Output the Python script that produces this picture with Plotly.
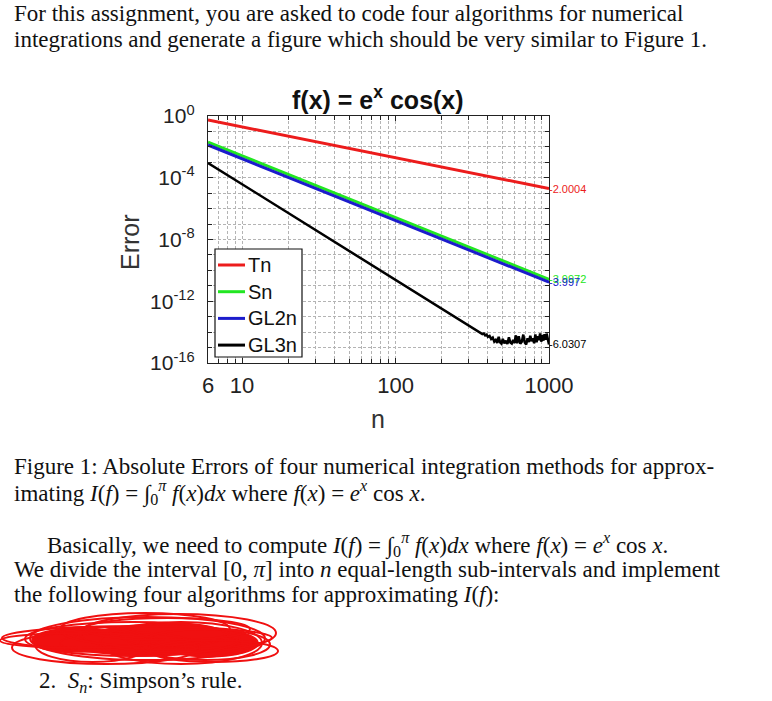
import math
import plotly.graph_objects as go

W, H = 772, 701

# ---- error data (absolute error vs number of sub-intervals n) ----
n_main = [6, 10, 20, 50, 100, 200, 500, 1000]
err_tn = [0.55, 0.199, 0.0497, 0.00795, 0.00199, 4.97e-4, 7.95e-5, 1.99e-5]
err_sn = [0.0202, 2.62e-3, 1.64e-4, 4.19e-6, 2.62e-7, 1.64e-8, 4.19e-10, 2.62e-11]
err_gl2n = [1.32e-2, 1.71e-3, 1.07e-4, 2.74e-6, 1.71e-7, 1.07e-8, 2.74e-10, 1.71e-11]

n_gl3n = [6, 10, 20, 50, 100, 200, 300, 350, 360, 368, 376, 384, 392, 400, 410,
          420, 430, 440, 450, 460, 470, 480, 490, 500, 512, 524, 536, 548, 560,
          572, 584, 596, 608, 620, 635, 650, 665, 680, 695, 710, 725, 740, 755,
          770, 785, 800, 815, 830, 845, 860, 875, 890, 905, 920, 935, 950, 965,
          980, 1000]
err_gl3n = [9.1e-4, 3.8e-5, 5.1e-7, 1.74e-9, 2.5e-11, 3.4e-13, 2.75e-14, 1.07e-14,
            9.0e-15, 7.5e-15, 8.2e-15, 6.1e-15, 6.8e-15, 4.9e-15, 5.6e-15,
            3.6e-15, 4.4e-15, 2.4e-15, 3.1e-15, 2.0e-15, 4.9e-15, 2.2e-15, 1.8e-15,
            3.6e-15, 1.9e-15, 2.8e-15, 1.7e-15, 4.6e-15, 2.1e-15, 1.8e-15, 3.1e-15,
            2.0e-15, 6.2e-15, 1.9e-15, 5.3e-15, 1.8e-15, 2.4e-15, 6.9e-15, 2.1e-15,
            1.6e-15, 4.0e-15, 2.3e-15, 5.8e-15, 2.6e-15, 3.9e-15, 1.9e-15, 7.1e-15,
            2.2e-15, 5.5e-15, 3.0e-15, 8.3e-15, 2.4e-15, 6.6e-15, 2.8e-15, 7.4e-15,
            3.2e-15, 8.0e-15, 3.5e-15, 1.6e-15]

slope_labels = ["-2.0004", "-3.9972", "-3.997", "-6.0307"]
series_names = ["Tn", "Sn", "GL2n", "GL3n"]
series_colors = ["#ec1c1c", "#22e622", "#1c1ccc", "#000000"]

x_tickvals = [6, 10, 100, 1000]
x_ticktext = ["6", "10", "100", "1000"]
x_minor = [7, 8, 9, 20, 30, 40, 50, 60, 70, 80, 90, 200, 300, 400, 500, 600, 700, 800, 900]
y_tickvals = [1e0, 1e-4, 1e-8, 1e-12, 1e-16]
y_ticktext = ["10<sup>0</sup>", "10<sup>-4</sup>", "10<sup>-8</sup>",
              "10<sup>-12</sup>", "10<sup>-16</sup>"]
y_minor = [10.0 ** (-k) for k in range(1, 16)]


def px(x):
    return x / W


def py(y):
    return 1 - y / H


fig = go.Figure()
series = [(n_main, err_tn), (n_main, err_sn), (n_main, err_gl2n), (n_gl3n, err_gl3n)]
widths = [3, 3, 3, 2.5]
for (xs, ys), name, color, lw in zip(series, series_names, series_colors, widths):
    fig.add_trace(go.Scatter(x=xs, y=ys, mode="lines", name=name,
                             line=dict(color=color, width=lw), showlegend=False))

grid_col = "#b4b4b4"
axis_font = dict(family="Arial, Liberation Sans", color="#222")
common = dict(
    tickmode="array", ticks="inside", ticklen=5, tickcolor="#222",
    showline=True, linecolor="#222", linewidth=1.3, mirror="allticks",
    showgrid=True, gridcolor=grid_col, griddash="3px,2px", gridwidth=1,
    zeroline=False, automargin=False,
)
fig.update_xaxes(
    type="log", range=[0.77815, 3.0], domain=[px(208), px(549)],
    tickvals=x_tickvals, ticktext=x_ticktext, ticklabelstandoff=2,
    tickfont=dict(size=22, **axis_font),
    minor=dict(tickmode="array", tickvals=x_minor, ticks="inside", ticklen=4,
               tickcolor="#222", showgrid=True, gridcolor=grid_col,
               griddash="3px,2px", gridwidth=1),
    **common,
)
fig.update_yaxes(
    type="log", range=[-16, 0], domain=[py(363), py(116)],
    tickvals=y_tickvals, ticktext=y_ticktext, ticklabelstandoff=8,
    tickfont=dict(size=21, **axis_font),
    minor=dict(tickmode="array", tickvals=y_minor, ticks="inside", ticklen=4,
               tickcolor="#222", showgrid=True, gridcolor=grid_col,
               griddash="3px,2px", gridwidth=1),
    **common,
)

annotations = []
shapes = []

# slope labels at the end of each curve
end_vals = [err_tn[-1], err_sn[-1], err_gl2n[-1], err_gl3n[-1]]
for lab, val, color in zip(slope_labels, end_vals, series_colors):
    annotations.append(dict(x=3.0, y=math.log10(val), xref="x", yref="y",
                            text=lab, showarrow=False, xanchor="left",
                            yanchor="middle", xshift=-2,
                            font=dict(family="Arial, Liberation Sans", size=11,
                                      color=color)))

# legend box drawn inside the axes
shapes.append(dict(type="rect", xref="paper", yref="paper",
                   x0=px(215), x1=px(302), y0=py(357), y1=py(249),
                   fillcolor="white", line=dict(color="#111", width=1.2), layer="above"))
for i, (name, color, lw) in enumerate(zip(series_names, series_colors, widths)):
    yc = 265 + i * 26.7
    shapes.append(dict(type="line", xref="paper", yref="paper",
                       x0=px(218), x1=px(245), y0=py(yc), y1=py(yc),
                       line=dict(color=color, width=3), layer="above"))
    annotations.append(dict(x=px(246), y=py(yc), xref="paper", yref="paper",
                            text=name, showarrow=False, xanchor="left",
                            yanchor="middle",
                            font=dict(family="Arial, Liberation Sans", size=20,
                                      color="#111")))

# chart title and axis titles
annotations.append(dict(x=px(378), y=py(98), xref="paper", yref="paper",
                        text="<b>f(x) = e<sup>x</sup> cos(x)</b>", showarrow=False,
                        xanchor="center", yanchor="middle",
                        font=dict(family="Arial, Liberation Sans", size=25, color="#111")))
annotations.append(dict(x=px(130), y=py(242), xref="paper", yref="paper",
                        text="Error", showarrow=False, textangle=-90,
                        xanchor="center", yanchor="middle",
                        font=dict(family="Arial, Liberation Sans", size=25, color="#333")))
annotations.append(dict(x=px(378), y=py(419), xref="paper", yref="paper",
                        text="n", showarrow=False,
                        xanchor="center", yanchor="middle",
                        font=dict(family="Arial, Liberation Sans", size=25, color="#333")))

# surrounding document text
serif = "Liberation Serif, Times New Roman, serif"
integral = ("<i>I</i>(<i>f</i>) = ∫<sub>0</sub><sup><i>π</i></sup> <i>f</i>(<i>x</i>)<i>dx</i>"
            " where <i>f</i>(<i>x</i>) = <i>e<sup>x</sup></i> cos <i>x</i>.")
doc_lines = [
    (12, 13, "For this assignment, you are asked to code four algorithms for numerical"),
    (12, 39, "integrations and generate a figure which should be very similar to Figure 1."),
    (12, 467, "Figure 1: Absolute Errors of four numerical integration methods for approx-"),
    (12, 492, "imating " + integral),
    (45, 544, "Basically, we need to compute " + integral),
    (12, 569, "We divide the interval [0, <i>π</i>] into <i>n</i> equal-length sub-intervals and implement"),
    (12, 594, "the following four algorithms for approximating <i>I</i>(<i>f</i>):"),
    (37, 682, "2.  <i>S<sub>n</sub></i>: Simpson’s rule."),
]
for x0, y0, txt in doc_lines:
    annotations.append(dict(x=px(x0), y=py(y0), xref="paper", yref="paper",
                            text=txt, showarrow=False, xanchor="left",
                            yanchor="middle",
                            font=dict(family=serif, size=23, color="#111")))

# red scribble over the first list item
red = "#f01010"
blobs = [(32, 130, 628, 652), (90, 200, 625, 656), (160, 258, 629, 657),
         (60, 240, 631, 655), (120, 225, 623, 647)]
for xa, xb, ya, yb in blobs:
    shapes.append(dict(type="circle", xref="paper", yref="paper",
                       x0=px(xa), x1=px(xb), y0=py(yb), y1=py(ya),
                       fillcolor=red, line=dict(color=red, width=1.5)))
loops = [(2, 272, 626, 650), (30, 265, 617, 660), (80, 276, 614, 652),
         (12, 200, 631, 664), (100, 262, 622, 664), (25, 240, 622, 656),
         (60, 230, 613, 646), (35, 150, 627, 662), (140, 270, 629, 660),
         (0, 160, 633, 648), (85, 250, 618, 640), (150, 278, 640, 662)]
for xa, xb, ya, yb in loops:
    shapes.append(dict(type="circle", xref="paper", yref="paper",
                       x0=px(xa), x1=px(xb), y0=py(yb), y1=py(ya),
                       line=dict(color=red, width=2)))

fig.update_layout(
    width=W, height=H, margin=dict(l=0, r=0, t=0, b=0),
    paper_bgcolor="white", plot_bgcolor="white",
    annotations=annotations, shapes=shapes,
    showlegend=False,
)

fig.write_html("out.html")
